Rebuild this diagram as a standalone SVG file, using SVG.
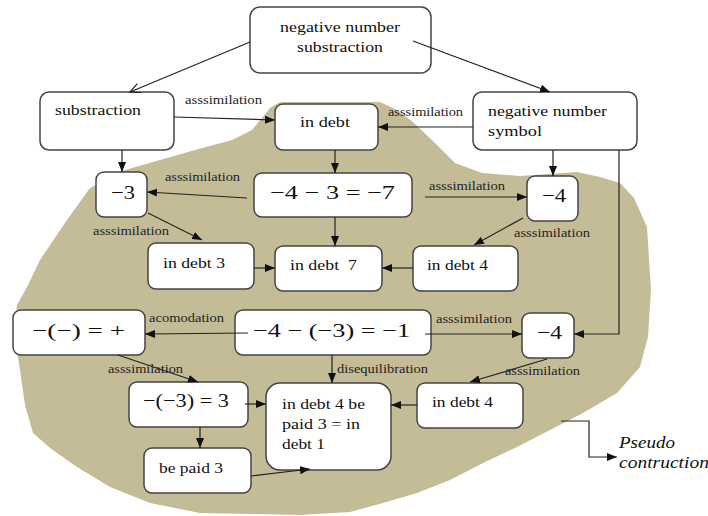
<svg xmlns="http://www.w3.org/2000/svg" width="708" height="516" viewBox="0 0 708 516" font-family="Liberation Serif, DejaVu Serif, Times New Roman, serif">
<defs>
<style>
.box{fill:#fff;stroke:#444;stroke-width:1.5}
.ln{fill:none;stroke:#222;stroke-width:1.2}
.t{font-size:15.5px;fill:#111}
.m{font-size:19px;fill:#111}
.l{font-size:13px;fill:#222}
.p{font-size:17px;font-style:italic;fill:#111}
</style>
<marker id="a" markerUnits="userSpaceOnUse" markerWidth="12" markerHeight="10" refX="10" refY="4" orient="auto"><path d="M0,0 L10,4 L0,8 z" fill="#111"/></marker>
<marker id="o" markerUnits="userSpaceOnUse" markerWidth="14" markerHeight="12" refX="11" refY="5" orient="auto"><path d="M1,0 L11,5 L1,10" fill="none" stroke="#222" stroke-width="1.2"/></marker>
</defs>
<rect width="708" height="516" fill="#fff"/>
<path id="blob" fill="#c4bc97" d="M90,188 L125,170 L160,160 L195,150 L232,140 L252,130 L262,118 L270,108 L280,102 L380,102 L397,110 L413,122 L437,145 L455,163 L482,173 L520,176 L577,172 L600,177 L620,183 L634,198 L647,227 L651,290 L648,337 L640,367 L617,393 L583,413 L550,430 L517,447 L483,463 L450,480 L417,493 L383,503 L350,512 L300,515 L250,514 L200,513 L150,503 L110,487 L77,467 L50,448 L33,433 L25,405 L20,370 L14,330 L17,305 L27,287 L40,260 L67,220 Z"/>
<g id="n1"><rect class="box" x="250" y="7" width="181" height="66" rx="10"/><text class="t" x="280" y="32" textLength="120" lengthAdjust="spacingAndGlyphs">negative number</text><text class="t" x="297" y="52" textLength="86" lengthAdjust="spacingAndGlyphs">substraction</text></g>
<g id="n2"><rect class="box" x="40" y="92" width="134" height="58" rx="9"/><text class="t" x="55" y="115" textLength="86" lengthAdjust="spacingAndGlyphs">substraction</text></g>
<g id="n3"><rect class="box" x="275" y="104" width="103" height="46" rx="8"/><text class="t" x="300" y="127" textLength="50" lengthAdjust="spacingAndGlyphs">in debt</text></g>
<g id="n4"><rect class="box" x="473" y="92" width="164" height="58" rx="9"/><text class="t" x="488" y="116" textLength="119" lengthAdjust="spacingAndGlyphs">negative number</text><text class="t" x="488" y="136" textLength="54" lengthAdjust="spacingAndGlyphs">symbol</text></g>
<g id="n5"><rect class="box" x="96" y="172" width="51" height="45" rx="8"/><text class="m" x="111" y="199" textLength="24" lengthAdjust="spacingAndGlyphs">−3</text></g>
<g id="n6"><rect class="box" x="254" y="173" width="158" height="44" rx="8"/><text class="m" x="270" y="199" textLength="125" lengthAdjust="spacingAndGlyphs">−4 − 3 = −7</text></g>
<g id="n7"><rect class="box" x="527" y="176" width="51" height="45" rx="8"/><text class="m" x="542" y="202" textLength="24" lengthAdjust="spacingAndGlyphs">−4</text></g>
<g id="n8"><rect class="box" x="148" y="243" width="106" height="46" rx="8"/><text class="t" x="163" y="268" textLength="62" lengthAdjust="spacingAndGlyphs">in debt 3</text></g>
<g id="n9"><rect class="box" x="275" y="246" width="107" height="45" rx="8"/><text class="t" x="290" y="270" textLength="67" lengthAdjust="spacingAndGlyphs" xml:space="preserve">in debt  7</text></g>
<g id="n10"><rect class="box" x="413" y="246" width="105" height="45" rx="8"/><text class="t" x="427" y="270" textLength="61" lengthAdjust="spacingAndGlyphs">in debt 4</text></g>
<g id="n11"><rect class="box" x="13" y="310" width="132" height="45" rx="8"/><text class="m" x="32" y="337" textLength="93" lengthAdjust="spacingAndGlyphs">−(−) = +</text></g>
<g id="n12"><rect class="box" x="235" y="310" width="196" height="45" rx="8"/><text class="m" x="253" y="337" textLength="157" lengthAdjust="spacingAndGlyphs">−4 − (−3) = −1</text></g>
<g id="n13"><rect class="box" x="522" y="313" width="52" height="45" rx="8"/><text class="m" x="537" y="339" textLength="25" lengthAdjust="spacingAndGlyphs">−4</text></g>
<g id="n14"><rect class="box" x="129" y="382" width="119" height="45" rx="8"/><text class="m" x="143" y="407" textLength="86" lengthAdjust="spacingAndGlyphs">−(−3) = 3</text></g>
<g id="n15"><rect class="box" x="266" y="383" width="125" height="87" rx="14"/><text class="t" x="282" y="409" textLength="83" lengthAdjust="spacingAndGlyphs">in debt 4 be</text><text class="t" x="282" y="429" textLength="78" lengthAdjust="spacingAndGlyphs">paid 3 = in</text><text class="t" x="282" y="449" textLength="43" lengthAdjust="spacingAndGlyphs">debt 1</text></g>
<g id="n16"><rect class="box" x="144" y="448" width="107" height="45" rx="8"/><text class="t" x="159" y="473" textLength="64" lengthAdjust="spacingAndGlyphs">be paid 3</text></g>
<g id="n17"><rect class="box" x="417" y="383" width="106" height="45" rx="8"/><text class="t" x="432" y="407" textLength="61" lengthAdjust="spacingAndGlyphs">in debt 4</text></g>
<g id="connectors">
<path class="ln" d="M250,42 L130,92" marker-end="url(#o)"/>
<path class="ln" d="M413,41 L550,92" marker-end="url(#a)"/>
<path class="ln" d="M174,117 L275,120" marker-end="url(#a)"/>
<path class="ln" d="M473,127 L378,127" marker-end="url(#a)"/>
<path class="ln" d="M122,150 L122,172" marker-end="url(#a)"/>
<path class="ln" d="M335,150 L335,173" marker-end="url(#a)"/>
<path class="ln" d="M553,150 L553,176" marker-end="url(#a)"/>
<path class="ln" d="M619,150 L619,334 L574,334" marker-end="url(#a)"/>
<path class="ln" d="M247,198 L147,192" marker-end="url(#a)"/>
<path class="ln" d="M425,197 L527,197" marker-end="url(#a)"/>
<path class="ln" d="M148,213 L202,240" marker-end="url(#a)"/>
<path class="ln" d="M335,217 L335,246" marker-end="url(#a)"/>
<path class="ln" d="M254,268 L275,268" marker-end="url(#a)"/>
<path class="ln" d="M523,218 L474,245" marker-end="url(#a)"/>
<path class="ln" d="M413,268 L382,268" marker-end="url(#a)"/>
<path class="ln" d="M248,333 L145,334" marker-end="url(#a)"/>
<path class="ln" d="M425,334 L522,334" marker-end="url(#a)"/>
<path class="ln" d="M118,355 L198,382" marker-end="url(#a)"/>
<path class="ln" d="M332,355 L332,383" marker-end="url(#a)"/>
<path class="ln" d="M547,359 L470,382" marker-end="url(#a)"/>
<path class="ln" d="M417,405 L391,405" marker-end="url(#a)"/>
<path class="ln" d="M245,404 L266,404" marker-end="url(#a)"/>
<path class="ln" d="M200,427 L200,448" marker-end="url(#a)"/>
<path class="ln" d="M251,476 L310,469" marker-end="url(#a)"/>
<path class="ln" d="M561,421 L589,421 L589,457 L617,457" marker-end="url(#a)"/>
</g>
<g id="labels">
<text class="l" x="185" y="104" textLength="77" lengthAdjust="spacingAndGlyphs">asssimilation</text>
<text class="l" x="388" y="116" textLength="75" lengthAdjust="spacingAndGlyphs">asssimilation</text>
<text class="l" x="165" y="181" textLength="75" lengthAdjust="spacingAndGlyphs">asssimilation</text>
<text class="l" x="429" y="190" textLength="76" lengthAdjust="spacingAndGlyphs">asssimilation</text>
<text class="l" x="93" y="235" textLength="76" lengthAdjust="spacingAndGlyphs">asssimilation</text>
<text class="l" x="514" y="237" textLength="76" lengthAdjust="spacingAndGlyphs">asssimilation</text>
<text class="l" x="149" y="322" textLength="75" lengthAdjust="spacingAndGlyphs">acomodation</text>
<text class="l" x="436" y="323" textLength="76" lengthAdjust="spacingAndGlyphs">asssimilation</text>
<text class="l" x="108" y="373" textLength="75" lengthAdjust="spacingAndGlyphs">asssimilation</text>
<text class="l" x="337" y="373" textLength="91" lengthAdjust="spacingAndGlyphs">disequilibration</text>
<text class="l" x="505" y="375" textLength="75" lengthAdjust="spacingAndGlyphs">asssimilation</text>
<text class="p" x="619" y="448" textLength="56" lengthAdjust="spacingAndGlyphs">Pseudo</text>
<text class="p" x="619" y="468" textLength="90" lengthAdjust="spacingAndGlyphs">contruction</text>
</g>
</svg>
